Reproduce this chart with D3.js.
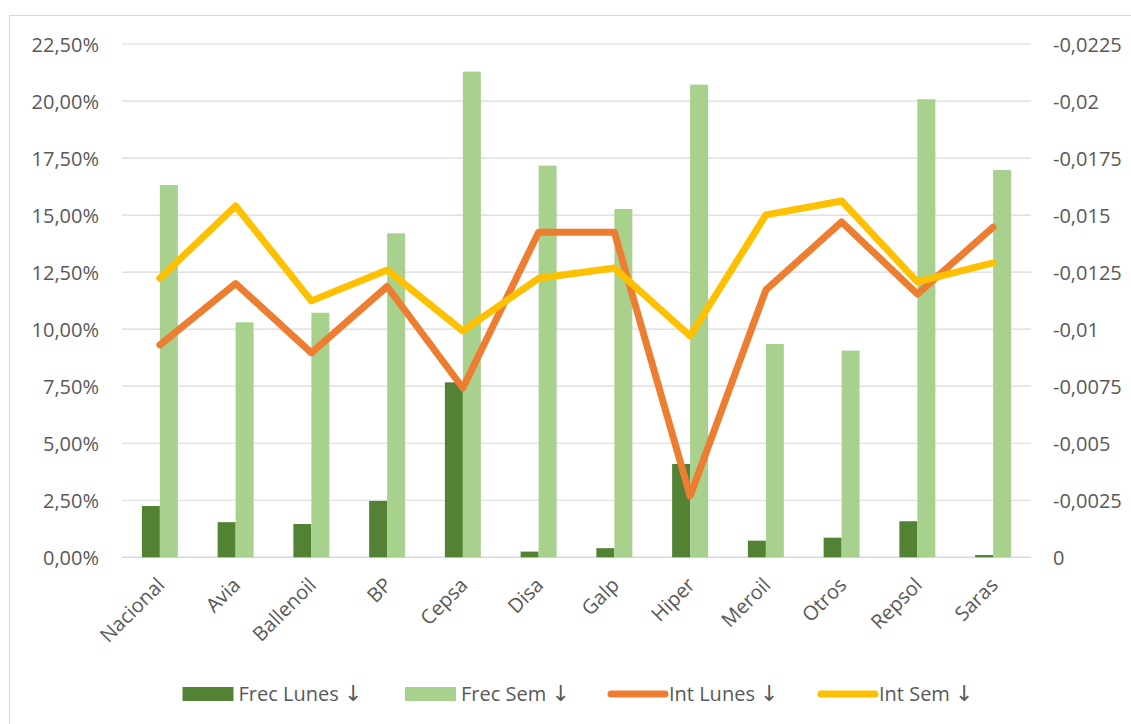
<!DOCTYPE html>
<html>
<head>
<meta charset="utf-8">
<script src="https://cdn.jsdelivr.net/npm/d3@7"></script>
<style>
  html, body { margin: 0; padding: 0; background: #ffffff; }
  svg { display: block; }
  text { font-family: "Open Sans", "Noto Sans", sans-serif; fill: #595959; }
  tspan.arrow { font-family: "DejaVu Sans", "Liberation Sans", sans-serif; font-weight: normal; fill: #595959; }
</style>
</head>
<body>
<svg id="chart" width="1131" height="724"></svg>
<script>
// ---- data ----
const categories = ["Nacional","Avia","Ballenoil","BP","Cepsa","Disa","Galp","Hiper","Meroil","Otros","Repsol","Saras"];
const frecLunes = [0.0225,0.0154,0.0146,0.0247,0.0767,0.0025,0.0040,0.0409,0.0073,0.0086,0.0158,0.0010];
const frecSem   = [0.1632,0.1030,0.1072,0.1420,0.2129,0.1717,0.1527,0.2072,0.0935,0.0906,0.2008,0.1698];
const intLunes  = [-0.00931,-0.01200,-0.00896,-0.01187,-0.00742,-0.01425,-0.01425,-0.00269,-0.01172,-0.01470,-0.01154,-0.01447];
const intSem    = [-0.01223,-0.01540,-0.01124,-0.01259,-0.00992,-0.01223,-0.01268,-0.00970,-0.01501,-0.01562,-0.01207,-0.01291];
const leftTicks  = [0,0.025,0.05,0.075,0.10,0.125,0.15,0.175,0.20,0.225];
const rightTicks = [0,-0.0025,-0.005,-0.0075,-0.01,-0.0125,-0.015,-0.0175,-0.02,-0.0225];
const seriesNames = ["Frec Lunes","Frec Sem","Int Lunes","Int Sem"];
const arrow = "\u2193";
const colors = ["#548235","#A9D18E","#ED7D31","#FFC000"];

// ---- layout ----
const FS = 20;
const svg = d3.select("#chart");
const plot = {left: 122, right: 1031, top: 44, bottom: 557.3};

const locale = d3.formatLocale({decimal: ",", thousands: ".", grouping: [3], currency: ["", "€"], minus: "-"});
const fmtLeft = locale.format(".2%");
const fmtRight = locale.format("~g");

// chart frame
svg.append("rect")
  .attr("x", 9.5).attr("y", 15.5).attr("width", 1300).attr("height", 900)
  .attr("fill", "none").attr("stroke", "#d9d9d9").attr("stroke-width", 1);

const x = d3.scaleBand().domain(categories).range([plot.left, plot.right])
  .paddingInner(0.525).paddingOuter(0.2625);
const xSub = d3.scaleBand().domain(["lunes","sem"]).range([0, x.bandwidth()]);
const yL = d3.scaleLinear().domain([0, 0.225]).range([plot.bottom, plot.top]);
const yR = d3.scaleLinear().domain([0, -0.0225]).range([plot.bottom, plot.top]);

// gridlines
svg.append("g").selectAll("line").data(leftTicks).join("line")
  .attr("x1", plot.left).attr("x2", plot.right)
  .attr("y1", d => yL(d)).attr("y2", d => yL(d))
  .attr("stroke", "#d9d9d9").attr("stroke-width", d => d === 0 ? 1.5 : 1.2);

// left axis
const axL = svg.append("g").attr("transform", `translate(${plot.left - 23},0)`)
  .call(d3.axisLeft(yL).tickValues(leftTicks).tickFormat(fmtLeft).tickSize(0).tickPadding(0));
axL.select(".domain").remove();
axL.selectAll("text").attr("font-size", FS).attr("fill", "#595959").attr("dy", "0.38em")
  .style("font-family", '"Open Sans", sans-serif');

// right axis
const axR = svg.append("g").attr("transform", `translate(${plot.right + 22},0)`)
  .call(d3.axisRight(yR).tickValues(rightTicks).tickFormat(fmtRight).tickSize(0).tickPadding(0));
axR.select(".domain").remove();
axR.selectAll("text").attr("font-size", FS).attr("fill", "#595959").attr("dy", "0.38em")
  .style("font-family", '"Open Sans", sans-serif');

// bars
const barData = [];
categories.forEach((c, i) => {
  barData.push({cat: c, key: "lunes", v: frecLunes[i], color: colors[0]});
  barData.push({cat: c, key: "sem", v: frecSem[i], color: colors[1]});
});
svg.append("g").selectAll("rect").data(barData).join("rect")
  .attr("x", d => x(d.cat) + xSub(d.key))
  .attr("width", xSub.bandwidth())
  .attr("y", d => yL(d.v))
  .attr("height", d => yL(0) - yL(d.v))
  .attr("fill", d => d.color);

// category labels
svg.append("g").selectAll("text").data(categories).join("text")
  .attr("transform", d => `translate(${x(d) + x.bandwidth()/2 + 6},${plot.bottom + 29}) rotate(-45)`)
  .attr("text-anchor", "end")
  .attr("font-size", FS)
  .text(d => d);

// lines
const line = d3.line()
  .x((d, i) => x(categories[i]) + x.bandwidth()/2)
  .y(d => yR(d));
[[intLunes, colors[2]], [intSem, colors[3]]].forEach(([vals, col]) => {
  svg.append("path").datum(vals)
    .attr("d", line)
    .attr("fill", "none").attr("stroke", col).attr("stroke-width", 7)
    .attr("stroke-linejoin", "round").attr("stroke-linecap", "round");
});

// legend
const legendY = 694;
const legendItems = [
  {x: 182.5, type: "rect"},
  {x: 405, type: "rect"},
  {x: 611, type: "line"},
  {x: 821, type: "line"}
];
const lg = svg.append("g");
legendItems.forEach((it, i) => {
  let tx;
  if (it.type === "rect") {
    lg.append("rect").attr("x", it.x).attr("y", legendY - 7).attr("width", 51).attr("height", 14)
      .attr("fill", colors[i]);
    tx = it.x + 56;
  } else {
    lg.append("line").attr("x1", it.x).attr("x2", it.x + 54).attr("y1", legendY).attr("y2", legendY)
      .attr("stroke", colors[i]).attr("stroke-width", 7).attr("stroke-linecap", "round");
    tx = it.x + 58;
  }
  const t = lg.append("text").attr("x", tx).attr("y", legendY).attr("dy", "0.36em")
    .attr("font-size", FS);
  t.append("tspan").text(seriesNames[i] + " ");
  t.append("tspan").attr("class", "arrow").attr("font-size", FS + 2).text(arrow);
});
</script>
</body>
</html>
